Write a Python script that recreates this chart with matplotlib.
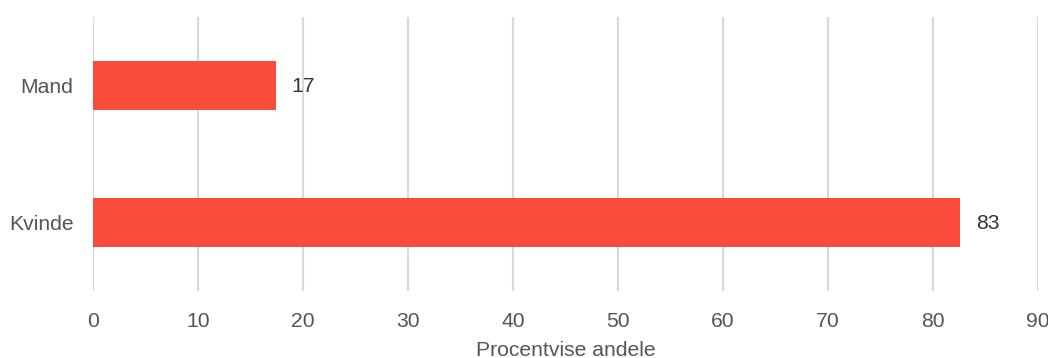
import matplotlib
matplotlib.use("Agg")
import matplotlib.pyplot as plt

# Share of respondents by gender (percent)
categories = ["Mand", "Kvinde"]
shares = [17.4, 82.6]
x_ticks = [0, 10, 20, 30, 40, 50, 60, 70, 80, 90]
x_label = "Procentvise andele"

plt.rcParams["font.family"] = ["Liberation Sans", "DejaVu Sans"]

bar_color = "#F94C3C"
text_color = "#555555"
grid_color = "#D9D9D9"
fs = 15.2

fig = plt.figure(figsize=(10.48, 3.58), dpi=100)
ax = fig.add_axes([93 / 1048, 1 - 291 / 358, (1038 - 93) / 1048, (291 - 17) / 358])

ypos = list(range(len(categories)))
ax.barh(ypos, shares, height=0.36, color=bar_color, zorder=3)

for y, v in zip(ypos, shares):
    ax.text(v + 1.5, y + 0.01, f"{v:.0f}", va="center", ha="left",
            fontsize=fs, color="#333333", zorder=4)

ax.set_xlim(0, 90)
ax.set_ylim(len(categories) - 0.5, -0.5)
ax.set_yticks(ypos)
ax.set_yticklabels(categories)
ax.set_xticks(x_ticks)

ax.grid(axis="x", color=grid_color, linewidth=1.6, zorder=0)
ax.grid(axis="y", visible=False)
for s in ax.spines.values():
    s.set_visible(False)

ax.tick_params(axis="both", length=0, labelsize=fs, labelcolor=text_color)
ax.tick_params(axis="x", pad=15)
ax.tick_params(axis="y", pad=14)
ax.set_xlabel(x_label, fontsize=fs, color=text_color, labelpad=7)

fig.savefig("out.png", dpi=100, facecolor="white")
